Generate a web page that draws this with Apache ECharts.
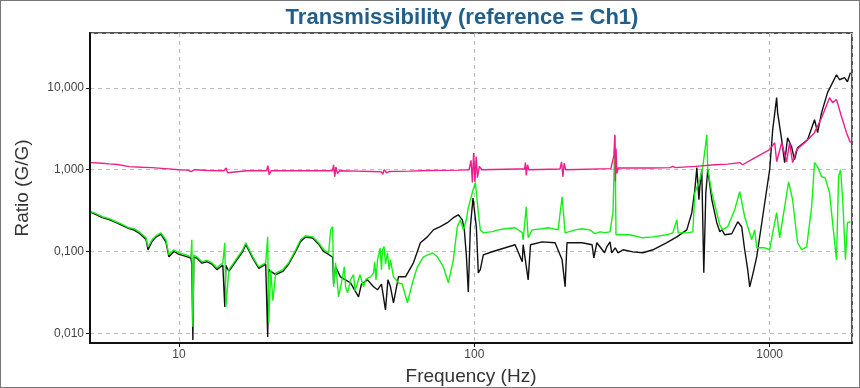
<!DOCTYPE html>
<html><head><meta charset="utf-8">
<script src="https://cdn.jsdelivr.net/npm/echarts@6/dist/echarts.min.js"></script>
<style>html,body{margin:0;padding:0;background:#fff;overflow:hidden}#c{width:860px;height:388px}
#frame{position:absolute;left:0;top:0;width:858px;height:386px;border:1px solid #777;pointer-events:none}</style>
</head><body><div id="c"></div><div id="frame"></div>
<script>
const title = 'Transmissibility (reference = Ch1)';
const xName = 'Frequency (Hz)';
const yName = 'Ratio (G/G)';
const yTicks = [0.01, 0.1, 1, 10];
const xTicks = [10, 100, 1000];

const greenF = [5.04,5.24,5.5,5.8,6.13,6.37,6.78,7.05,7.33,7.74,7.86,8.11,8.36,8.69,9.04,9.25,9.62,10,10.56,10.98,11.06,11.15,11.23,11.5,11.96,12.43,12.93,13.44,14.08,14.3,14.42,14.76,15.58,16.45,16.84,17.78,18.64,19.67,19.98,20.14,20.46,20.8,21.27,22.46,23.53,24.85,25.83,26.86,28.36,29.72,30.9,32.13,32.63,33.15,33.4,33.92,34.72,35.82,36.3,36.66,37.24,38.11,39,39.5,40.25,41,42.17,43,44.54,45.6,46,46.5,47.02,48,48.5,48.89,49.5,50.04,50.83,51.5,52.03,53.26,55.37,57,59.39,61.74,64.19,67.26,72.13,74.99,78.57,81.69,84.94,87.62,89.69,91.81,93.98,95.44,98.45,100.8,103.2,104.8,107.3,115,120.5,127.3,137.5,145.3,146.4,149.9,152.2,157,169.7,177.8,192.2,198.3,203,219.4,231.7,246.6,256.3,266.5,277.1,288.1,294.9,299.5,301.8,306.6,336.5,372.4,402.5,448.7,470.1,485,490,524.2,549.5,558,580.2,593.9,612.7,617.3,637.1,662.3,678,694,721,761.5,791.7,823.2,869.4,890,904,962,1000,1024,1056,1081,1124,1159,1196,1214,1243,1283,1334,1387,1419,1453,1499,1540,1595,1633,1684,1711,1738,1765,1806,1834,1877];
const greenV = [0.306,0.29,0.266,0.252,0.231,0.218,0.195,0.19,0.174,0.147,0.114,0.139,0.155,0.169,0.139,0.091,0.105,0.0964,0.0911,0.0861,0.139,0.012,0.09,0.0861,0.0748,0.078,0.0727,0.0632,0.0727,0.128,0.021,0.0597,0.0791,0.105,0.128,0.0861,0.065,0.0727,0.151,0.0134,0.0597,0.025,0.0548,0.0597,0.0727,0.105,0.139,0.156,0.151,0.128,0.105,0.0964,0.184,0.201,0.037,0.0727,0.0279,0.049,0.065,0.037,0.0312,0.045,0.052,0.033,0.0414,0.052,0.037,0.046,0.049,0.0548,0.075,0.045,0.0791,0.11,0.06,0.105,0.115,0.07,0.0964,0.06,0.0791,0.049,0.0414,0.04,0.0236,0.0414,0.065,0.0861,0.0964,0.0861,0.065,0.0414,0.0791,0.201,0.244,0.184,0.244,0.343,0.523,0.7,0.298,0.184,0.169,0.175,0.184,0.19,0.195,0.17,0.139,0.352,0.147,0.184,0.19,0.195,0.184,0.467,0.169,0.184,0.19,0.184,0.165,0.174,0.17,0.174,0.306,2.6,0.16,0.16,0.16,0.147,0.151,0.16,0.169,0.244,0.169,0.169,0.174,0.523,0.754,1.09,2.68,1.0,0.523,0.298,0.212,0.184,0.201,0.324,0.54,0.266,0.139,0.184,0.111,0.111,0.105,0.169,0.298,0.147,0.352,0.71,0.429,0.266,0.128,0.105,0.114,0.352,1.22,1.09,0.82,0.8,0.523,0.225,0.0791,0.82,1.0,0.467,0.0791,0.225,0.231];

const blackF = [5.04,5.24,5.5,5.8,6.13,6.37,6.78,7.05,7.33,7.74,7.86,8.11,8.36,8.69,9.04,9.25,9.62,10,10.56,10.98,11.06,11.15,11.23,11.5,11.96,12.43,12.93,13.44,14.08,14.3,14.42,14.76,15.58,16.45,16.84,17.78,18.64,19.67,19.98,20.14,20.46,21.27,22.46,23.53,24.85,25.83,26.86,28.36,29.72,30.9,32.13,33.15,33.4,33.92,35.2,38.11,40.56,41.5,43.5,45.6,47.02,48.5,50.04,51,52.03,53.26,55.37,58.47,62.23,65.71,69.38,72.7,76.75,81.05,84.94,88.31,91.1,92.52,93.98,95.44,97,99,101.6,103.2,104.8,107.3,115,127.3,137.5,145.3,146.4,148.7,152.2,155,169.7,187.7,198.3,203,206,231.7,250.4,254,260,276,281,288,292,300,306.6,318.8,344.5,372.4,402.5,448.7,485,524.2,545,558,566.9,576,580.2,589,598.4,608,617.3,637.1,662.3,678,689,705,744,780,804,823,843,856,876,904,947,1000,1024,1056,1064,1098,1124,1150,1186,1214,1243,1344,1419,1453,1499,1570,1620,1684,1724,1792,1834,1877];
const blackV = [0.30,0.283,0.26,0.245,0.225,0.212,0.19,0.183,0.168,0.14,0.105,0.133,0.15,0.163,0.13,0.086,0.1,0.092,0.087,0.083,0.07,0.0083,0.085,0.083,0.072,0.075,0.07,0.06,0.068,0.021,0.068,0.057,0.076,0.1,0.122,0.083,0.062,0.07,0.009,0.06,0.057,0.052,0.057,0.07,0.1,0.133,0.15,0.146,0.123,0.1,0.092,0.085,0.04,0.065,0.049,0.0414,0.0279,0.04,0.045,0.037,0.034,0.04,0.0193,0.045,0.037,0.0236,0.049,0.049,0.0727,0.128,0.151,0.184,0.201,0.225,0.259,0.281,0.244,0.184,0.091,0.032,0.2,0.45,0.2,0.0548,0.06,0.091,0.0992,0.111,0.121,0.075,0.121,0.128,0.045,0.121,0.131,0.128,0.0791,0.037,0.128,0.128,0.121,0.0837,0.128,0.0964,0.114,0.131,0.0964,0.111,0.0964,0.105,0.099,0.0964,0.105,0.128,0.151,0.184,0.298,0.569,1.06,0.429,0.619,1.0,0.0548,0.523,1.0,0.429,0.225,0.174,0.184,0.16,0.165,0.231,0.201,0.105,0.0597,0.037,0.0518,0.0861,0.266,1.0,3.09,7.61,4.99,2.33,1.22,2.46,1.91,1.33,1.86,2.33,4.09,2.84,4.99,8.76,11.0,14.5,12.6,13.4,11.9,15.4];

const pinkF = [5.04,5.5,5.8,6.2,6.78,7.5,8.1,9,10,10.7,11.0,11.3,12.5,14.2,14.45,14.6,14.8,17,19.8,20.0,20.2,20.5,30,33.1,33.4,33.7,34.0,34.4,35,40,45,48.5,49,49.5,50.5,51.5,60,70,90,96,97.5,98.5,99.5,100.5,101.5,102.5,104,106,140,148,149,150,151.5,153,195,197.5,199.5,201.5,204,290,297,299,300.5,302,304,307,400,460,470,480,560,652,720,792,810,890,1000,1040,1056,1098,1141,1168,1196,1234,1313,1419,1499,1595,1633,1684,1751,1820,1877];
const pinkV = [1.22,1.2,1.18,1.16,1.09,1.07,1.06,1.03,1.0,0.99,0.95,1.0,0.98,0.97,1.05,0.92,0.97,0.972,0.97,1.12,0.87,0.97,0.97,0.97,1.15,0.82,1.08,0.9,0.97,0.96,0.95,0.94,0.88,1.0,0.92,0.95,0.96,0.98,0.99,1.0,1.3,0.7,1.6,0.71,1.45,0.8,1.1,1.0,1.02,1.02,1.22,0.85,1.15,1.0,1.02,1.25,0.82,1.2,1.0,1.03,1.5,2.68,0.72,1.8,0.9,1.05,1.05,1.06,1.1,1.06,1.1,1.15,1.17,1.22,1.15,1.40,1.76,2.14,1.25,2.14,1.25,2.14,1.22,1.76,2.14,2.84,4.33,7.61,6.61,7.19,4.45,2.84,2.14];

const pairs = (f, v) => f.map((x, i) => [x, v[i]]);
const chart = echarts.init(document.getElementById('c'), null, {renderer: 'canvas'});
const lineSeries = (name, f, v, color, w) => ({
  name, type: 'line', data: pairs(f, v), showSymbol: false, symbol: 'none',
  lineStyle: {color, width: w}, itemStyle: {color}, animation: false, silent: true
});
chart.setOption({
  animation: false,
  backgroundColor: '#fff',
  title: {text: title, left: 457, textAlign: 'center', top: 2,
    textStyle: {fontFamily: 'Liberation Sans', fontWeight: 'bold', fontSize: 22, color: '#215f8a'}},
  grid: {left: 90, right: 8, top: 33, bottom: 45, show: true, borderColor: '#555', borderWidth: 2,
    backgroundColor: 'transparent', containLabel: false, outerBoundsMode: 'none'},
  xAxis: {type: 'log', logBase: 10, min: 5, max: 1900,
    name: xName, nameLocation: 'middle', nameGap: 24,
    nameTextStyle: {fontFamily: 'Liberation Sans', fontSize: 19, color: '#333'},
    axisLine: {show: true, lineStyle: {color: '#111', width: 2}},
    axisTick: {show: true, length: 4, lineStyle: {color: '#111'}},
    axisLabel: {color: '#444', fontFamily: 'Liberation Sans', fontSize: 12, margin: 6, showMinLabel: false, showMaxLabel: false,
      formatter: v => xTicks.some(t => Math.abs(t - v) / t < 1e-6) ? String(Math.round(v)) : ''},
    splitLine: {show: true, lineStyle: {color: '#bbb', type: [4, 4], width: 1}},
    minorTick: {show: false}, minorSplitLine: {show: false}},
  yAxis: {type: 'log', logBase: 10, min: 0.0076, max: 47,
    name: yName, nameLocation: 'middle', nameGap: 58, nameRotate: 90,
    nameTextStyle: {fontFamily: 'Liberation Sans', fontSize: 19, color: '#333'},
    axisLine: {show: true, lineStyle: {color: '#111', width: 2}},
    axisTick: {show: true, length: 4, lineStyle: {color: '#111'}},
    axisLabel: {color: '#444', fontFamily: 'Liberation Sans', fontSize: 12, margin: 6, showMinLabel: false, showMaxLabel: false,
      formatter: v => yTicks.some(t => Math.abs(t - v) / t < 1e-6) ? v.toFixed(3).replace('.', ',') : ''},
    splitLine: {show: true, lineStyle: {color: '#bbb', type: [4, 4], width: 1}}},
  series: [
    lineSeries('Ch2', blackF, blackV, '#111111', 1.4),
    lineSeries('Ch3', greenF, greenV, '#14f014', 1.4),
    lineSeries('Ch4', pinkF, pinkV, '#ee1e8c', 1.4)
  ]
});
</script></body></html>
